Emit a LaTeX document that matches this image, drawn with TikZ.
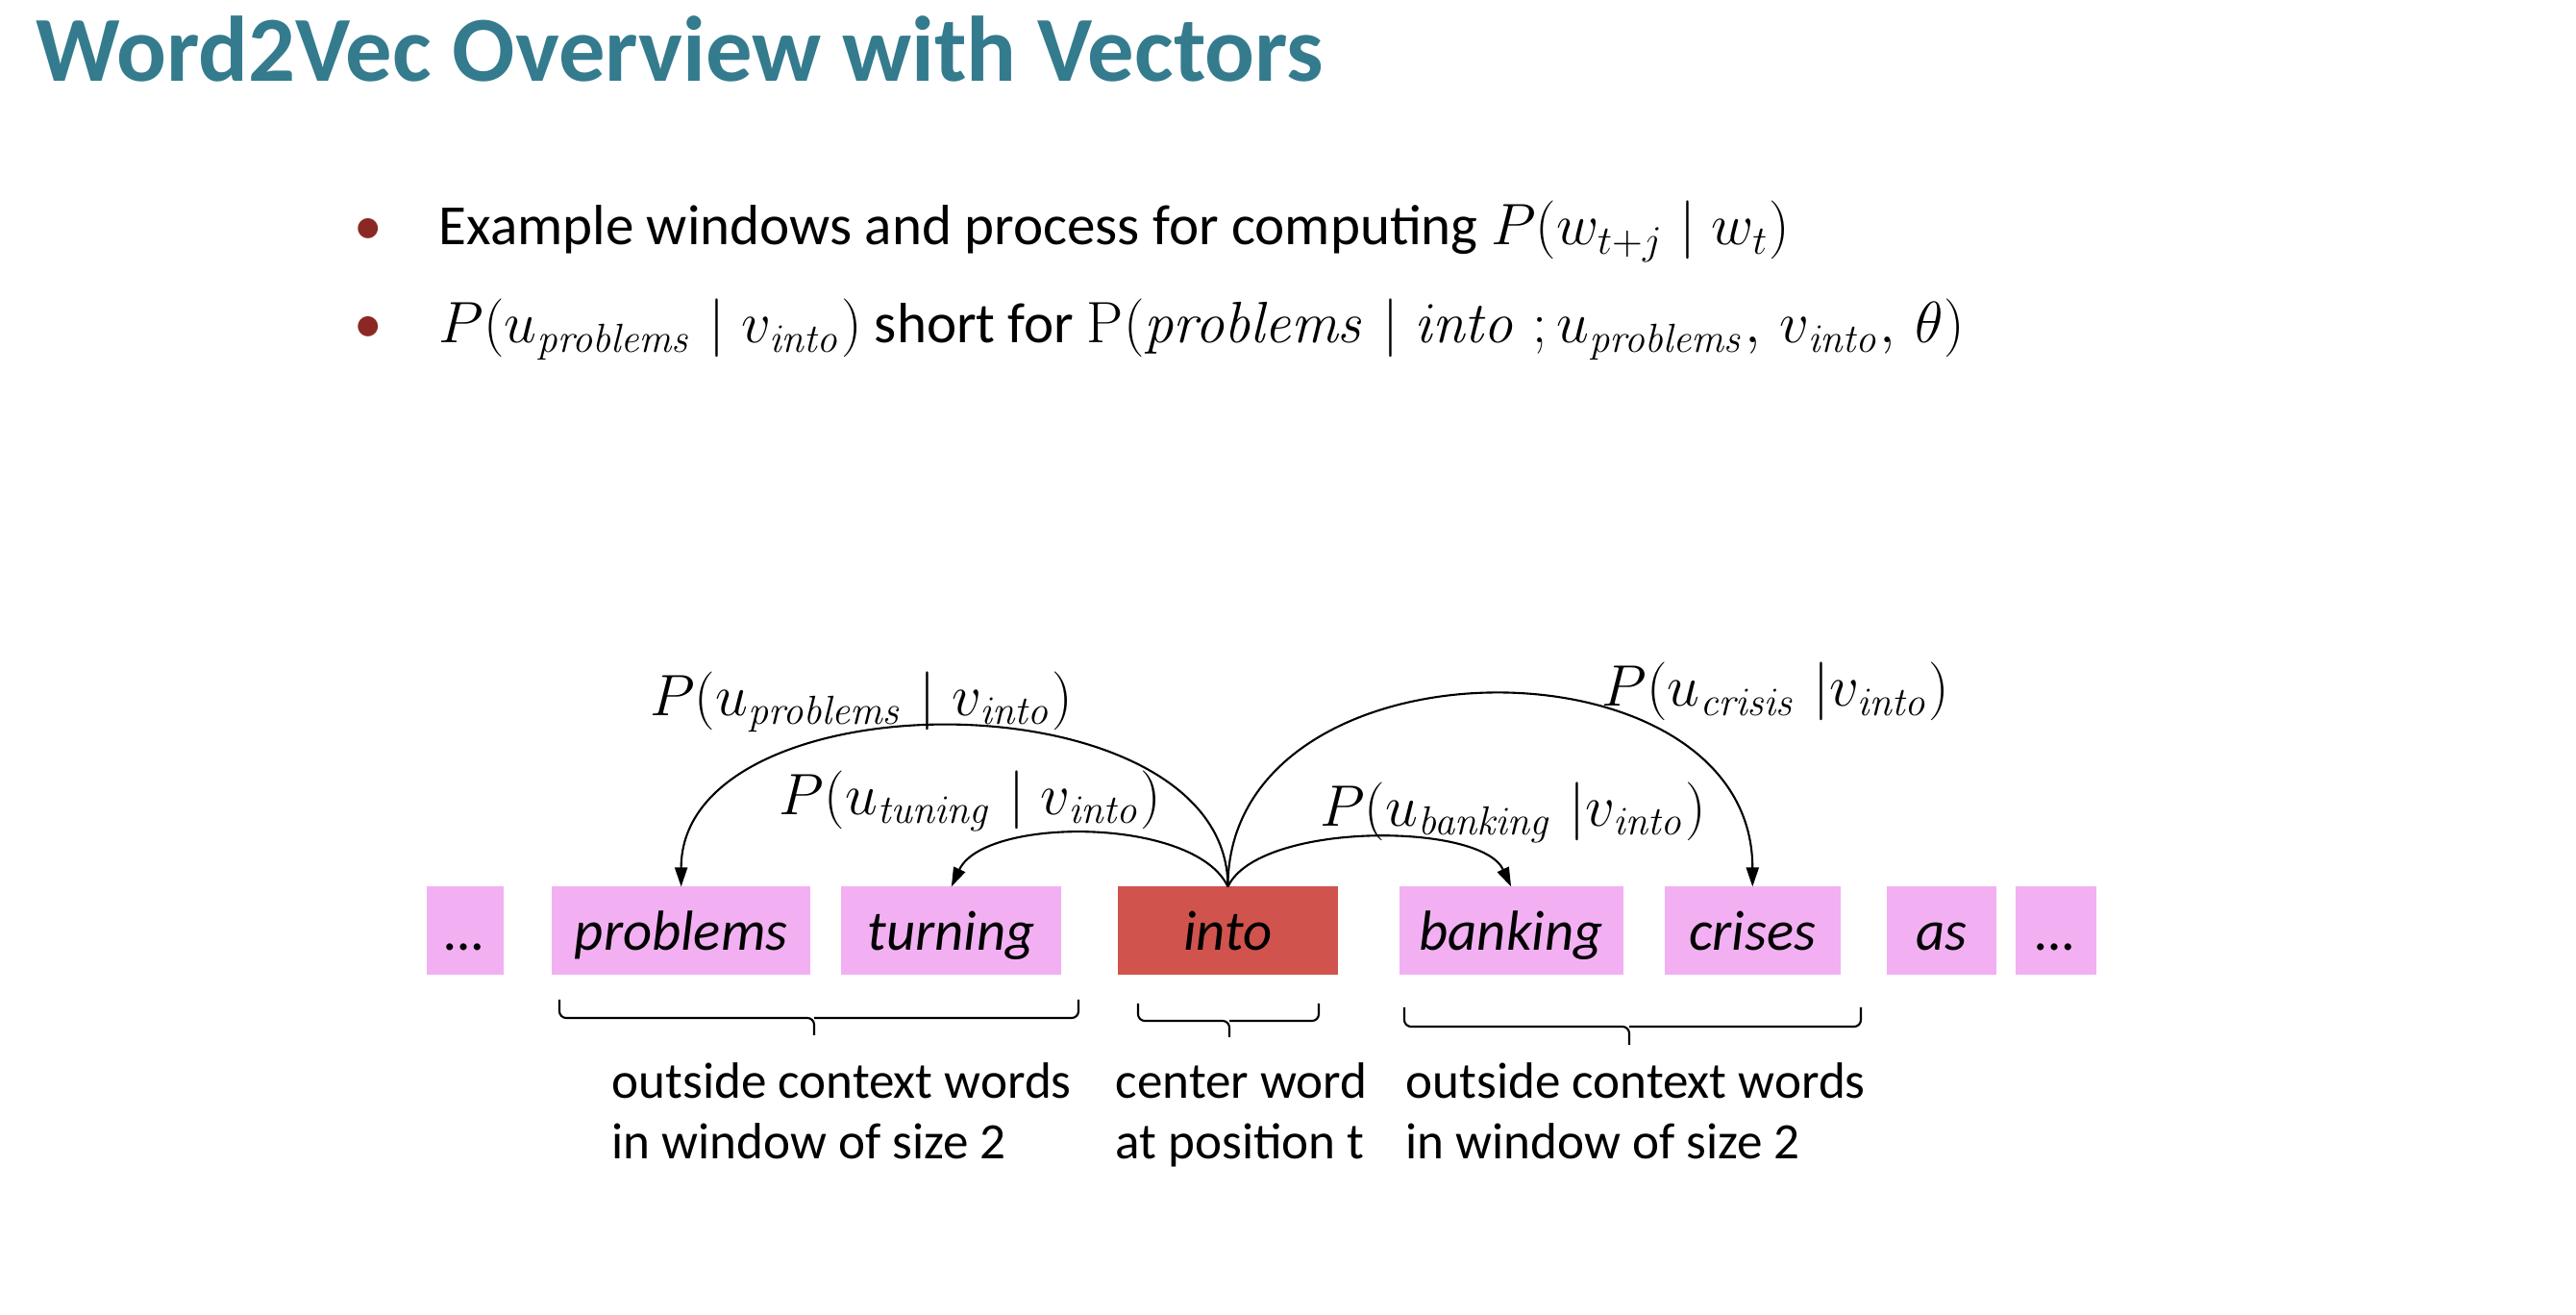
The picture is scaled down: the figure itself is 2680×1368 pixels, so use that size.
\documentclass[tikz,border=0pt]{standalone}
\usepackage[no-math]{fontspec}
\setmainfont{Carlito}
\usetikzlibrary{arrows.meta, positioning}

\definecolor{titleteal}{RGB}{52,123,142}
\definecolor{wordpink}{RGB}{242,176,242}
\definecolor{centerred}{RGB}{209,83,77}
\definecolor{bulletred}{RGB}{140,40,35}

\begin{document}
\begin{tikzpicture}[
    x=0.01cm, y=0.01cm,
    word/.style={fill=wordpink, minimum height=0.91cm, inner sep=0pt, outer sep=0pt, text height=0.5cm, text depth=0.1cm, font=\fontsize{16.7}{20}\selectfont\itshape},
    prob/.style={-{Triangle[length=0.2cm, width=0.13cm]}, line width=0.6pt},
    lbl/.style={font=\fontsize{17}{20}\selectfont, inner sep=0pt, anchor=base},
    bline/.style={font=\fontsize{16.8}{20}\selectfont, inner sep=0pt, anchor=base west},
    dot/.style={font=\fontsize{16.8}{20}\selectfont, text=bulletred, inner sep=0pt, anchor=base},
    brk/.style={line width=0.6pt, rounded corners=2pt},
    note/.style={font=\fontsize{15.1}{17.9}\selectfont, align=left, inner sep=0pt, anchor=north west}
]
\fill[white] (0,0) rectangle (2680,-1368);

% Titel
\node (title) [anchor=base west, inner sep=0pt, font=\fontsize{27.5}{33}\selectfont\bfseries, text=titleteal] at (37,-85) {Word2Vec Overview with Vectors};

% Punkte
\node (dot1) [dot] at (383,-255) {\textbullet};
\node (line1) [bline] at (456,-255) {Example windows and process for computing $P\bigl(w_{t+j} \mid w_t\bigr)$};
\node (dot2) [dot] at (383,-357) {\textbullet};
\node (line2) [bline] at (456,-357) {$P\bigl(u_{\mathit{problems}} \mid v_{\mathit{into}}\bigr)$ short for $\mathrm{P}\bigl(\mathit{problems} \mid \mathit{into}\;; u_{\mathit{problems}},\, v_{\mathit{into}},\, \theta\bigr)$};

% Woerter
\node (dotsL) [word, minimum width=0.80cm] at (484,-968) {…};
\node (problems) [word, minimum width=2.69cm, right=0.50cm of dotsL] {problems};
\node (turning) [word, minimum width=2.29cm, right=0.32cm of problems] {turning};
\node (into) [word, fill=centerred, minimum width=2.28cm, right=0.59cm of turning] {into};
\node (banking) [word, minimum width=2.33cm, right=0.64cm of into] {banking};
\node (crises) [word, minimum width=1.83cm, right=0.43cm of banking] {crises};
\node (as) [word, minimum width=1.14cm, right=0.48cm of crises] {as};
\node (dotsR) [word, minimum width=0.84cm, right=0.20cm of as] {…};

% Boegen
\draw [prob] (into.north) to[out=90, in=90] node[lbl, pos=0.5, xshift=-0.97cm, yshift=0.12cm] {$P\bigl(u_{\mathit{problems}} \mid v_{\mathit{into}}\bigr)$} (problems.north);
\draw [prob] (into.north) to[out=115, in=65, looseness=0.72] node[lbl, pos=0.5, xshift=-1.24cm, yshift=0.2cm] {$P\bigl(u_{\mathit{tuning}} \mid v_{\mathit{into}}\bigr)$} (turning.north);
\draw [prob] (into.north) to[out=65, in=115, looseness=0.65] node[lbl, pos=0.5, xshift=1.49cm, yshift=0.12cm] {$P\bigl(u_{\mathit{banking}}\;|v_{\mathit{into}}\bigr)$} (banking.north);
\draw [prob] (into.north) to[out=90, in=90, looseness=1.25] node[lbl, pos=0.5, xshift=2.97cm, yshift=-0.12cm] {$P\bigl(u_{\mathit{crisis}}\;|v_{\mathit{into}}\bigr)$} (crises.north);

% Klammern
\draw [brk] (582,-1040) |- (847,-1059) -- (847,-1077) (847,-1059) -| (1122,-1040);
\draw [brk] (1184,-1044) |- (1279,-1062) -- (1279,-1079) (1279,-1062) -| (1372,-1044);
\draw [brk] (1461,-1048) |- (1695,-1068) -- (1695,-1087) (1695,-1068) -| (1936,-1048);

\node (ctxL) [note] at (636,-1105) {outside context words\\in window of size 2};
\node (center) [note] at (1160,-1105) {center word\\at position t};
\node (ctxR) [note] at (1462,-1105) {outside context words\\in window of size 2};

\end{tikzpicture}
\end{document}
